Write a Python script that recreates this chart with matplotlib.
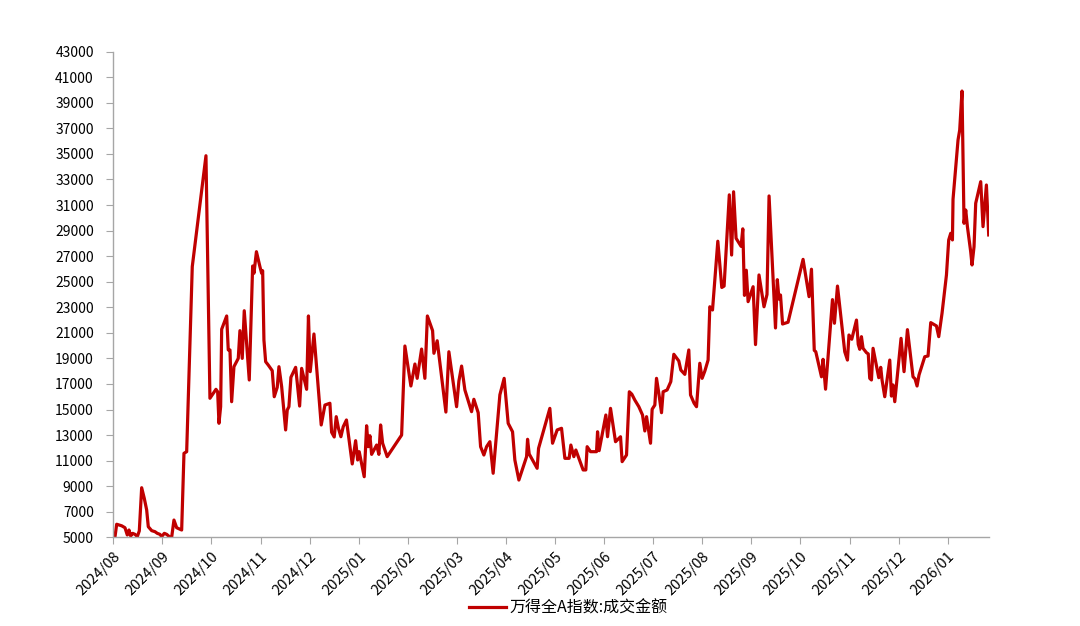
import matplotlib
matplotlib.use("Agg")
import matplotlib.pyplot as plt
import numpy as np

plt.rcParams['font.family'] = ['Noto Sans CJK SC', 'DejaVu Sans']

# elapsed time in months since the 2024/08 tick
t_month = [
    0.035, 0.069, 0.171, 0.238, 0.285, 0.320, 0.354, 0.395, 0.442, 0.489,
    0.530, 0.578, 0.631, 0.680, 0.713, 0.782, 0.849, 0.896, 0.951, 0.986,
    1.039, 1.088, 1.141, 1.189, 1.236, 1.291, 1.393, 1.440, 1.495, 1.609,
    1.888, 1.969, 2.037, 2.092, 2.126, 2.153, 2.187, 2.208, 2.310, 2.342,
    2.377, 2.411, 2.458, 2.546, 2.580, 2.627, 2.668, 2.770, 2.839, 2.866,
    2.916, 2.988, 3.022, 3.043, 3.069, 3.104, 3.157, 3.238, 3.279, 3.340,
    3.375, 3.430, 3.511, 3.544, 3.578, 3.619, 3.715, 3.796, 3.837, 3.939,
    3.976, 4.012, 4.088, 4.236, 4.312, 4.413, 4.448, 4.501, 4.542, 4.587,
    4.637, 4.684, 4.750, 4.868, 4.937, 4.978, 5.010, 5.112, 5.161, 5.193,
    5.228, 5.263, 5.365, 5.411, 5.446, 5.487, 5.580, 5.874, 5.941, 6.063,
    6.145, 6.191, 6.281, 6.348, 6.399, 6.505, 6.532, 6.599, 6.776, 6.837,
    6.994, 7.041, 7.096, 7.163, 7.299, 7.346, 7.434, 7.483, 7.550, 7.605,
    7.672, 7.739, 7.876, 7.963, 8.045, 8.134, 8.181, 8.263, 8.420, 8.440,
    8.473, 8.635, 8.664, 8.894, 8.949, 9.043, 9.132, 9.200, 9.287, 9.322,
    9.383, 9.424, 9.572, 9.627, 9.654, 9.723, 9.845, 9.866, 9.898, 10.035,
    10.069, 10.130, 10.232, 10.334, 10.367, 10.456, 10.513, 10.564, 10.625, 10.707,
    10.782, 10.829, 10.864, 10.945, 10.978, 11.033, 11.067, 11.114, 11.169, 11.202,
    11.283, 11.358, 11.420, 11.521, 11.562, 11.644, 11.725, 11.760, 11.833, 11.882,
    11.949, 11.996, 12.051, 12.118, 12.153, 12.208, 12.316, 12.397, 12.444, 12.550,
    12.597, 12.637, 12.688, 12.790, 12.825, 12.859, 12.896, 12.933, 13.035, 13.084,
    13.155, 13.257, 13.318, 13.360, 13.491, 13.528, 13.562, 13.593, 13.635, 13.747,
    14.053, 14.175, 14.224, 14.281, 14.312, 14.428, 14.460, 14.511, 14.652, 14.692,
    14.754, 14.902, 14.957, 14.988, 15.045, 15.141, 15.177, 15.208, 15.242, 15.275,
    15.344, 15.381, 15.411, 15.446, 15.479, 15.595, 15.635, 15.662, 15.717, 15.819,
    15.853, 15.886, 15.921, 16.049, 16.110, 16.179, 16.293, 16.334, 16.375, 16.415,
    16.532, 16.599, 16.654, 16.770, 16.817, 16.884, 16.974, 17.020, 17.061, 17.096,
    17.108, 17.210, 17.244, 17.291, 17.332, 17.367, 17.401, 17.468, 17.495, 17.536,
    17.570, 17.672, 17.719, 17.788, 17.835,
]

turnover = [
    5050, 6020, 5900, 5750, 5180, 5570, 5100, 5310, 5230, 5050,
    5500, 8880, 8050, 7140, 5830, 5520, 5440, 5310, 5230, 5050,
    5310, 5230, 5050, 5000, 6350, 5750, 5570, 11570, 11700, 26180,
    34860, 15880, 16270, 16580, 16390, 13920, 15220, 21280, 22320, 19660,
    19660, 15610, 18350, 19000, 21170, 19000, 22730, 17310, 26230, 25660,
    27350, 26170, 25660, 25860, 20440, 18740, 18480, 18040, 16000, 16740,
    18350, 16790, 13400, 14960, 15220, 17520, 18300, 15270, 18220, 16580,
    22320, 17960, 20910, 13790, 15350, 15490, 13220, 12850, 14440, 13530,
    12870, 13650, 14180, 10740, 12560, 11050, 11700, 9740, 13730, 12090,
    12950, 11490, 12220, 11490, 13790, 12360, 11310, 13000, 19970, 16840,
    18560, 17440, 19730, 17440, 22320, 21170, 19400, 20380, 14800, 19520,
    15220, 17230, 18400, 16530, 14830, 15800, 14750, 12090, 11440, 12090,
    12480, 10010, 16150, 17440, 13920, 13260, 11050, 9480, 11310, 12670,
    11520, 10400, 11960, 15090, 12360, 13400, 13530, 11180, 11180, 12220,
    11310, 11830, 10270, 10270, 12090, 11700, 11700, 13260, 11780, 14570,
    12870, 15090, 12480, 12870, 10920, 11440, 16390, 16200, 15740, 15220,
    14570, 13320, 14440, 12360, 15020, 15350, 17440, 16270, 14750, 16390,
    16530, 17180, 19320, 18800, 18090, 17750, 19660, 16140, 15490, 15220,
    18620, 17440, 18000, 18870, 23040, 22790, 28170, 24550, 24660, 31800,
    27090, 32040, 28400, 27770, 29140, 23930, 25900, 23440, 24610, 20080,
    25530, 23040, 24000, 31710, 21380, 25160, 23640, 23960, 21690, 21830,
    26750, 23830, 25980, 19630, 19520, 17560, 18930, 16590, 23600, 21750,
    24660, 19520, 18870, 20830, 20500, 22000, 20100, 19710, 20700, 19790,
    19450, 19350, 17440, 17310, 19790, 17490, 18300, 17310, 16000, 18870,
    16050, 16920, 15610, 20570, 17960, 21250, 17560, 17400, 16840, 17700,
    19130, 19190, 21800, 21540, 20700, 22530, 25530, 28270, 28790, 28270,
    31450, 36090, 36870, 39920, 29570, 30610, 29310, 27350, 26310, 27740,
    31140, 32830, 29310, 32570, 28660,
]

month_labels = ['2024/08', '2024/09', '2024/10', '2024/11', '2024/12',
                '2025/01', '2025/02', '2025/03', '2025/04', '2025/05',
                '2025/06', '2025/07', '2025/08', '2025/09', '2025/10',
                '2025/11', '2025/12', '2026/01']
y_ticks = list(range(5000, 43001, 2000))
series_name = '万得全A指数:成交金额'

fig = plt.figure(figsize=(10.8, 6.26), dpi=100)
ax = fig.add_axes([0.1049, 0.1417, 0.8108, 0.7757])

ax.plot(t_month, turnover, color='#C00000', linewidth=2.3,
        solid_joinstyle='round', label=series_name)

ax.set_xlim(0, 17.84)
ax.set_ylim(5000, 43000)
ax.set_yticks(y_ticks)
ax.set_yticklabels([str(v) for v in y_ticks], fontsize=10)
ax.set_xticks(range(len(month_labels)))
ax.set_xticklabels(month_labels, rotation=45, ha='right', va='top',
                   rotation_mode='anchor', fontsize=10.5)

for s in ['top', 'right']:
    ax.spines[s].set_visible(False)
for s in ['left', 'bottom']:
    ax.spines[s].set_color('#A6A6A6')
    ax.spines[s].set_linewidth(1.0)
ax.tick_params(axis='both', direction='out', length=5, color='#A6A6A6',
               labelcolor='#000000')
ax.tick_params(axis='y', pad=9)
ax.tick_params(axis='x', pad=4)

fig.legend(loc='center', bbox_to_anchor=(0.5264, 0.029), frameon=False,
           fontsize=11.5, handlelength=2.3, handletextpad=0.2)

fig.savefig('out.png', dpi=100, facecolor='white')
